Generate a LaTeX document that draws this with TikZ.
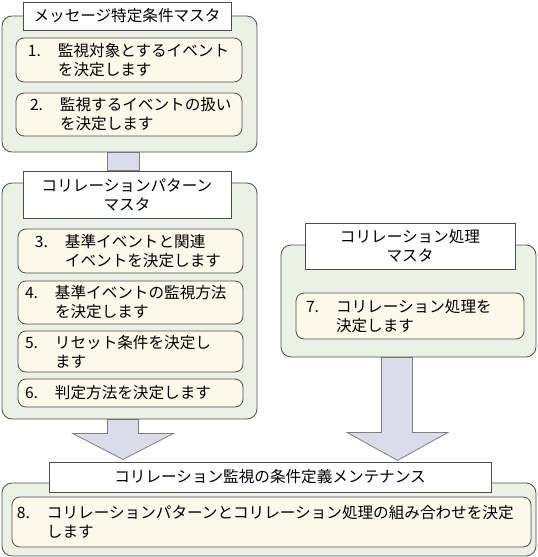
\documentclass[tikz,border=0pt]{standalone}
\usepackage{fontspec}
\setmainfont{Noto Sans CJK JP}
\usetikzlibrary{calc,backgrounds}
\definecolor{masterfill}{HTML}{EBF1E5}
\definecolor{taskfill}{HTML}{FCF9EA}
\definecolor{flowfill}{HTML}{DCDBE9}
\definecolor{boxline}{HTML}{4D4D4D}
\definecolor{flowline}{HTML}{7F7F7F}
\newcommand{\tasktext}[4]{\hspace*{#1}\makebox[30pt][l]{#2.}#3\\\hspace*{#1}\hspace*{30pt}#4}
\begin{document}
\begin{tikzpicture}[x=1pt,y=-1pt,font=\fontsize{15.6}{19}\selectfont]
    \tikzstyle{master}=[draw=boxline,fill=masterfill,rounded corners=10pt,line width=0.8pt,inner sep=0pt]
    \tikzstyle{mastername}=[draw=boxline,fill=white,line width=0.8pt,align=center,inner sep=0pt]
    \tikzstyle{task}=[draw=boxline,fill=taskfill,rounded corners=8pt,line width=0.8pt,align=left,inner sep=0pt]
    \tikzstyle{flow}=[draw=flowline,fill=flowfill,line width=0.8pt]
    \useasboundingbox (0,0) rectangle (538,557);
    \node[master,minimum width=255pt,minimum height=136pt] (msg) at (129.5,84) {};
    \node[mastername,minimum width=208pt,minimum height=28pt] (msgname) at (127,16) {メッセージ特定条件マスタ};
    \node[task,text width=226pt,minimum height=44pt] (t1) at (129,60) {\tasktext{12pt}{1}{監視対象とするイベント}{を決定します}};
    \node[task,text width=226pt,minimum height=43pt] (t2) at (129,114.5) {\tasktext{14pt}{2}{監視するイベントの扱い}{を決定します}};
    \node[master,minimum width=255pt,minimum height=236pt] (patt) at (129.5,301) {};
    \node[mastername,minimum width=208pt,minimum height=47pt] (pattname) at (127,194.5) {コリレーションパターン\\マスタ};
    \node[task,text width=225pt,minimum height=44pt] (t3) at (130.5,251) {\tasktext{17pt}{3}{基準イベントと関連}{イベントを決定します}};
    \node[task,text width=225pt,minimum height=43pt] (t4) at (130.5,302.5) {\tasktext{7pt}{4}{基準イベントの監視方法}{を決定します}};
    \node[task,text width=225pt,minimum height=41pt] (t5) at (130.5,351.5) {\tasktext{7pt}{5}{リセット条件を決定し}{ます}};
    \node[task,text width=225pt,minimum height=28pt] (t6) at (130.5,393) {\hspace*{7pt}\makebox[30pt][l]{6.}判定方法を決定します};
    \node[master,minimum width=255pt,minimum height=112pt] (proc) at (408.5,301) {};
    \node[mastername,minimum width=210pt,minimum height=46pt] (procname) at (410,246) {コリレーション処理\\マスタ};
    \node[task,text width=228pt,minimum height=46pt] (t7) at (410,316) {\tasktext{10pt}{7}{コリレーション処理を}{決定します}};
    \node[master,minimum width=534pt,minimum height=73pt] (maint) at (269,519.5) {};
    \node[mastername,minimum width=442pt,minimum height=30pt] (maintname) at (270,477) {コリレーション監視の条件定義メンテナンス};
    \node[task,text width=519pt,minimum height=50pt] (t8) at (271.5,522) {\tasktext{5pt}{8}{コリレーションパターンとコリレーション処理の組み合わせを決定}{します}};
    \begin{pgfonlayer}{background}
        \draw[flow] ($(msg.south)+(-22.5,0)$) rectangle ($(msg.south |- pattname.north)+(9.5,0)$);
        \draw[flow] ($(patt.south)+(-22,0)$) -- ++(0,14) -- ++(-35,0) -- ++(50.5,26) -- ++(50.5,-26) -- ++(-35,0) -- ++(0,-14) -- cycle;
        \draw[flow] ($(proc.south)+(-27,0)$) -- ++(0,75) -- ++(-34.5,0) -- ++(50.5,28) -- ++(50.5,-28) -- ++(-35.5,0) -- ++(0,-75) -- cycle;
    \end{pgfonlayer}
\end{tikzpicture}
\end{document}
